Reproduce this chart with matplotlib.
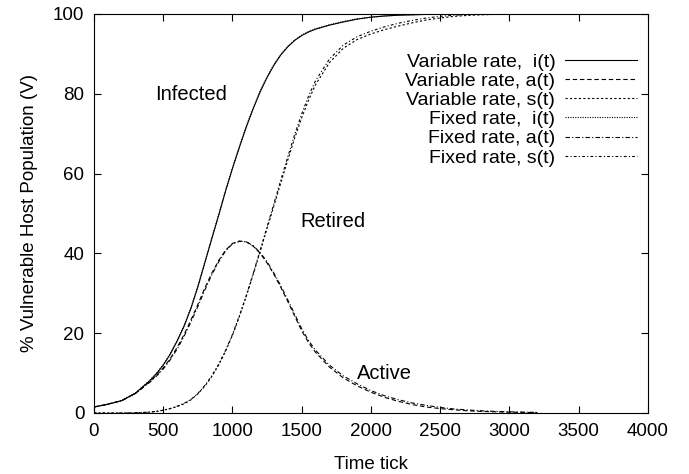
import matplotlib
matplotlib.use("Agg")
import matplotlib.pyplot as plt

plt.rcParams['font.family'] = ['Liberation Sans', 'DejaVu Sans']

# time ticks (denser where the curves bend most)
t = [0, 100, 200, 300, 400, 450, 500, 550, 600, 650, 700, 750, 800, 850, 900, 950, 1000,
     1050, 1100, 1150, 1200, 1250, 1300, 1350, 1400, 1450, 1500, 1550, 1600, 1700, 1800,
     1900, 2000, 2100, 2200, 2300, 2400, 2500, 2600, 2700, 2800, 2900, 3000, 3100, 3200]

# variable rate
i_var = [1.5, 2.2, 3.1, 5.0, 8.0, 9.8, 12.0, 14.7, 18.0, 21.7, 26.2, 31.6, 37.6, 43.6, 49.5,
         55.6, 61.3, 66.6, 71.7, 76.3, 80.5, 84.1, 87.2, 89.8, 91.8, 93.4, 94.6, 95.5, 96.2,
         97.2, 98.0, 98.7, 99.2, 99.5, 99.7, 99.8, 99.9, 99.95, 100, 100, 100, 100, 100, 100,
         100]
a_var = [1.5, 2.2, 3.1, 4.9, 7.8, 9.4, 11.3, 13.6, 16.4, 19.6, 23.3, 27.2, 31.3, 35.0, 38.2,
         40.8, 42.5, 43.1, 42.9, 41.8, 40.0, 37.6, 34.7, 31.4, 27.9, 24.2, 20.6, 17.6, 15.2,
         11.5, 8.8, 6.8, 5.2, 3.9, 2.9, 2.1, 1.5, 1.1, 0.8, 0.55, 0.4, 0.3, 0.2, 0.15, 0.1]
s_var = [0.0, 0.0, 0.0, 0.05, 0.2, 0.4, 0.7, 1.1, 1.6, 2.3, 3.3, 4.8, 6.7, 9.1, 12.0, 15.5,
         19.5, 24.2, 29.3, 34.8, 40.5, 46.3, 52.0, 57.8, 63.5, 69.0, 74.0, 78.5, 82.3, 87.8,
         91.4, 93.6, 95.0, 96.1, 97.0, 97.8, 98.5, 99.0, 99.4, 99.65, 99.8, 99.9, 99.95, 100,
         100]

# fixed rate
i_fix = [1.5, 2.2, 3.1, 5.0, 8.1, 9.9, 12.1, 14.8, 18.2, 21.9, 26.4, 31.8, 37.8, 43.8, 49.7,
         55.8, 61.5, 66.8, 71.9, 76.5, 80.7, 84.3, 87.4, 89.9, 91.9, 93.5, 94.7, 95.6, 96.3,
         97.3, 98.1, 98.8, 99.2, 99.5, 99.7, 99.8, 99.9, 99.95, 100, 100, 100, 100, 100, 100,
         100]
a_fix = [1.5, 2.2, 3.1, 4.9, 7.6, 9.2, 11.0, 13.3, 16.0, 19.2, 22.8, 26.7, 30.8, 34.6, 37.9,
         40.6, 42.4, 43.0, 42.9, 41.9, 40.2, 37.9, 35.0, 31.8, 28.3, 24.7, 21.1, 18.1, 15.7,
         12.0, 9.3, 7.3, 5.6, 4.3, 3.3, 2.5, 1.9, 1.4, 1.0, 0.75, 0.55, 0.4, 0.3, 0.2, 0.15]
s_fix = [0.0, 0.0, 0.0, 0.05, 0.2, 0.4, 0.7, 1.1, 1.7, 2.4, 3.4, 4.9, 6.9, 9.3, 12.2, 15.7,
         19.7, 24.4, 29.5, 35.0, 40.8, 46.7, 52.6, 58.5, 64.3, 69.9, 75.0, 79.5, 83.3, 88.7,
         92.2, 94.3, 95.7, 96.8, 97.7, 98.4, 99.0, 99.4, 99.7, 99.85, 99.95, 100, 100, 100,
         100]

fig = plt.figure(figsize=(6.89, 4.74), dpi=100)
ax = fig.add_axes([0.1364, 0.1287, 0.8041, 0.8418])

lw = 0.8
ax.plot(t, i_var, color='black', lw=lw, ls='-', label='Variable rate,  i(t)')
ax.plot(t, a_var, color='black', lw=lw, ls=(0, (4, 2.5)), label='Variable rate, a(t)')
ax.plot(t, s_var, color='black', lw=lw, ls=(0, (2, 2)), label='Variable rate, s(t)')
ax.plot(t, i_fix, color='black', lw=lw, ls=(0, (1, 1.2)), label='Fixed rate,  i(t)')
ax.plot(t, a_fix, color='black', lw=lw, ls=(0, (4, 2, 1, 2)), label='Fixed rate, a(t)')
ax.plot(t, s_fix, color='black', lw=lw, ls=(0, (2.5, 2, 1, 2)), label='Fixed rate, s(t)')

ax.set_xlim(0, 4000)
ax.set_ylim(0, 100)
ax.set_xticks(range(0, 4001, 500))
ax.set_yticks(range(0, 101, 20))
ax.tick_params(direction='in', length=5, width=0.8, top=True, right=True,
               labelsize=13.5, pad=7)
for sp in ax.spines.values():
    sp.set_linewidth(0.8)

ax.set_xlabel('Time tick', fontsize=13.5, labelpad=12)
ax.set_ylabel('% Vulnerable Host Population (V)', fontsize=13.5, labelpad=11)

ax.text(440, 79.7, 'Infected', fontsize=14.5, va='center')
ax.text(1490, 47.9, 'Retired', fontsize=14.5, va='center')
ax.text(1900, 9.8, 'Active', fontsize=14.5, va='center')

ax.legend(loc='upper right', bbox_to_anchor=(0.98, 0.902), frameon=False,
          markerfirst=False, fontsize=14, handlelength=3.7, handletextpad=0.5,
          labelspacing=0.08, borderpad=0, borderaxespad=0)

fig.savefig('out.png', dpi=100)
